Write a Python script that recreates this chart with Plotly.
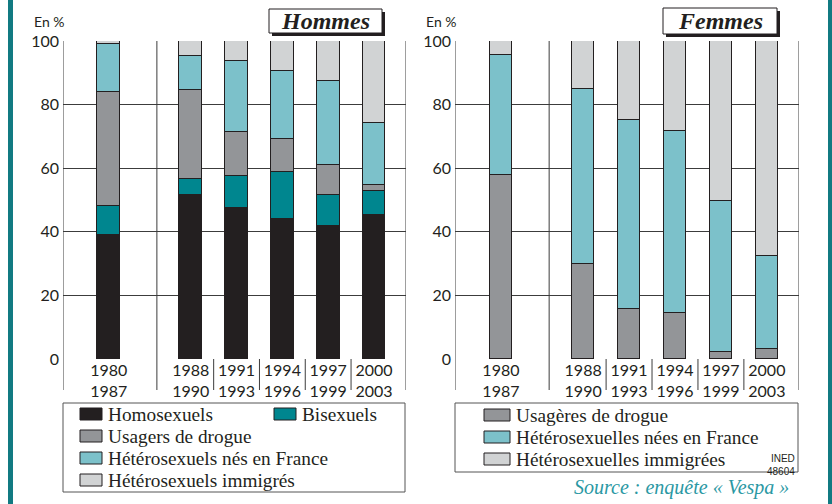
import plotly.graph_objects as go

# ---------------- data ----------------
periods = ["1980<br>1987", "1988<br>1990", "1991<br>1993", "1994<br>1996", "1997<br>1999", "2000<br>2003"]

men_names = ["Homosexuels", "Bisexuels", "Usagers de drogue", "Hétérosexuels nés en France", "Hétérosexuels immigrés"]
men_homo = [39.0, 51.5, 47.4, 44.0, 41.8, 45.3]
men_bi = [9.0, 5.1, 10.0, 14.8, 9.7, 7.6]
men_drug = [36.0, 28.0, 14.1, 10.5, 9.6, 1.8]
men_hetfr = [15.0, 10.7, 22.2, 21.4, 26.4, 19.4]
men_immig = [1.0, 4.7, 6.3, 9.4, 12.5, 25.9]

women_names = ["Usagères de drogue", "Hétérosexuelles nées en France", "Hétérosexuelles immigrées"]
women_drug = [58.0, 30.0, 15.8, 14.5, 2.3, 3.0]
women_hetfr = [37.6, 54.8, 59.3, 57.3, 47.5, 29.3]
women_immig = [4.4, 15.2, 24.9, 28.2, 50.2, 67.7]

y_ticks = [0, 20, 40, 60, 80, 100]

# ---------------- styles / layout ----------------
W, H = 832, 504
C_HOMO = "#231f20"
C_BI = "#00868f"
C_DRUG = "#939598"
C_HETFR = "#7cc1ca"
C_IMMIG = "#d1d3d4"
C_EDGE = "#231f20"
C_GRID = "#3c3c3c"
C_TEAL = "#117a82"

men_colors = [C_HOMO, C_BI, C_DRUG, C_HETFR, C_IMMIG]
women_colors = [C_DRUG, C_HETFR, C_IMMIG]

# category positions (in bar-spacing units), first group separated by a wider gap
xpos = [1.0, 2.79, 3.79, 4.79, 5.79, 6.79]
XMAX = 7.49
GAP_LINE = 2.05
dividers = [(xpos[i] + xpos[i + 1]) / 2 for i in range(1, len(xpos) - 1)]

def px(x):
    return x / W

def py(y):
    return 1 - y / H

Y0_PX, Y100_PX = 359, 41
LABEL_BOTTOM = py(390)

fig = go.Figure()

men_series = [men_homo, men_bi, men_drug, men_hetfr, men_immig]
for name, vals, col in zip(men_names, men_series, men_colors):
    fig.add_trace(go.Bar(x=xpos, y=vals, name=name, width=0.5,
                         marker=dict(color=col, line=dict(color=C_EDGE, width=1)),
                         xaxis="x", yaxis="y", showlegend=False))

women_series = [women_drug, women_hetfr, women_immig]
for name, vals, col in zip(women_names, women_series, women_colors):
    fig.add_trace(go.Bar(x=xpos, y=vals, name=name, width=0.47,
                         marker=dict(color=col, line=dict(color=C_EDGE, width=1)),
                         xaxis="x2", yaxis="y2", showlegend=False))

ydom = [py(Y0_PX), py(Y100_PX)]
tickfont = dict(family="Lato, Liberation Sans, sans-serif", size=16, color="#231f20")

xcommon = dict(range=[0, XMAX], showgrid=False, zeroline=False, showline=False,
               tickvals=xpos, ticktext=periods, ticks="", tickfont=tickfont,
               fixedrange=True, automargin=False)
ycommon = dict(range=[0, 100], tickvals=y_ticks, showgrid=True, gridcolor=C_GRID,
               gridwidth=1, zeroline=False, showline=False, ticks="",
               tickfont=tickfont, ticklabelstandoff=3, automargin=False, fixedrange=True)

fig.update_layout(
    width=W, height=H, barmode="stack", bargap=0,
    margin=dict(l=0, r=0, t=0, b=0, autoexpand=False),
    paper_bgcolor="white", plot_bgcolor="white",
    xaxis=dict(domain=[px(63), px(406)], anchor="y", **xcommon),
    yaxis=dict(domain=ydom, anchor="x", **ycommon),
    xaxis2=dict(domain=[px(455), px(799)], anchor="y2", **xcommon),
    yaxis2=dict(domain=ydom, anchor="x2", **ycommon),
)

shapes = []
annots = []

for xr, yr in [("x", "y"), ("x2", "y2")]:
    # full-height vertical lines: frame edges and group separator
    for xv in [0, GAP_LINE, XMAX]:
        shapes.append(dict(type="line", xref=xr, yref="paper", x0=xv, x1=xv,
                           y0=LABEL_BOTTOM, y1=ydom[1], line=dict(color=C_GRID, width=1)))
    # dividers in the label area
    for xv in dividers:
        shapes.append(dict(type="line", xref=xr, yref="paper", x0=xv, x1=xv,
                           y0=LABEL_BOTTOM, y1=ydom[0], line=dict(color=C_GRID, width=1)))

# teal side borders
shapes.append(dict(type="rect", xref="paper", yref="paper", x0=px(8), x1=px(13), y0=0, y1=1,
                   fillcolor=C_TEAL, line=dict(width=0)))
shapes.append(dict(type="rect", xref="paper", yref="paper", x0=px(828), x1=1, y0=0, y1=1,
                   fillcolor=C_TEAL, line=dict(width=0)))

# title boxes with drop shadow
def title_box(x0, y0, x1, y1, text):
    shapes.append(dict(type="rect", xref="paper", yref="paper", x0=px(x0 + 3), x1=px(x1 + 3),
                       y0=py(y1 + 3), y1=py(y0 + 3), fillcolor="#231f20", line=dict(width=0)))
    shapes.append(dict(type="rect", xref="paper", yref="paper", x0=px(x0), x1=px(x1),
                       y0=py(y1), y1=py(y0), fillcolor="white", line=dict(color="#231f20", width=1)))
    annots.append(dict(xref="paper", yref="paper", x=px((x0 + x1) / 2), y=py((y0 + y1) / 2),
                       text="<b><i>%s</i></b>" % text, showarrow=False, xanchor="center", yanchor="middle",
                       font=dict(family="Liberation Serif, serif", size=24, color="#231f20")))

title_box(269, 9, 382, 33, "Hommes")
title_box(663, 8, 777, 34, "Femmes")

# "En %" labels
for xl in [32, 424]:
    annots.append(dict(xref="paper", yref="paper", x=px(xl), y=py(22), text="En %", showarrow=False,
                       xanchor="left", yanchor="middle",
                       font=dict(family="Lato, Liberation Sans, sans-serif", size=14, color="#231f20")))

# legends (manual)
legfont = dict(family="Liberation Serif, serif", size=19.3, color="#231f20")

def legend_box(x0, y0, x1, y1):
    shapes.append(dict(type="rect", xref="paper", yref="paper", x0=px(x0), x1=px(x1),
                       y0=py(y1), y1=py(y0), fillcolor="white", line=dict(color="#555555", width=1)))

def legend_item(xs, ws, yc, color, text):
    shapes.append(dict(type="rect", xref="paper", yref="paper", x0=px(xs), x1=px(xs + ws),
                       y0=py(yc + 6), y1=py(yc - 6), fillcolor=color,
                       line=dict(color="#231f20", width=1)))
    annots.append(dict(xref="paper", yref="paper", x=px(xs + ws + 4), y=py(yc), text=text,
                       showarrow=False, xanchor="left", yanchor="middle", font=legfont))

legend_box(63, 403, 405, 492)
legend_item(80, 22, 414, men_colors[0], men_names[0])
legend_item(274, 22, 414, men_colors[1], men_names[1])
legend_item(80, 22, 436, men_colors[2], men_names[2])
legend_item(80, 22, 458, men_colors[3], men_names[3])
legend_item(80, 22, 480, men_colors[4], men_names[4])

legend_box(455, 403, 798, 472)
for i, (nm, col) in enumerate(zip(women_names, women_colors)):
    legend_item(484, 26, 415 + 22 * i, col, nm)

annots.append(dict(xref="paper", yref="paper", x=px(797), y=py(465), text="INED<br>48604",
                   showarrow=False, xanchor="right", yanchor="middle", align="right",
                   font=dict(family="Liberation Sans, sans-serif", size=10, color="#231f20")))

annots.append(dict(xref="paper", yref="paper", x=px(791), y=py(487),
                   text="<i>Source : enquête « Vespa »</i>", showarrow=False,
                   xanchor="right", yanchor="middle",
                   font=dict(family="Liberation Serif, serif", size=20, color="#2a98a3")))

fig.update_layout(shapes=shapes, annotations=annots)

fig.write_html("out.html", config={"displayModeBar": False},
               post_script="document.body.style.margin='0';document.body.style.overflow='hidden';")
